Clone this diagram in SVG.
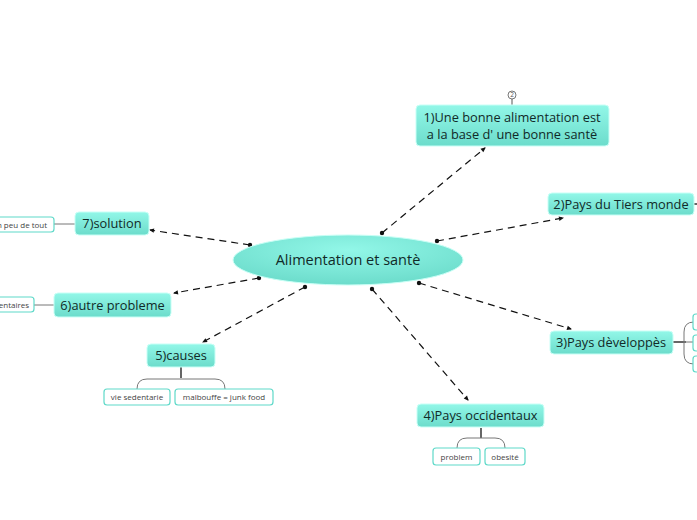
<svg xmlns="http://www.w3.org/2000/svg" width="697" height="520" viewBox="0 0 697 520">
<defs>
<linearGradient id="g" x1="0" y1="0" x2="0" y2="1"><stop offset="0" stop-color="#92f7e8"/><stop offset="1" stop-color="#6cdccb"/></linearGradient>
<radialGradient id="ge" cx="0.5" cy="0.3" r="0.7"><stop offset="0" stop-color="#92f7e8"/><stop offset="1" stop-color="#6cdccb"/></radialGradient>
<marker id="dot" markerWidth="6" markerHeight="6" refX="3" refY="3" markerUnits="userSpaceOnUse"><circle cx="3" cy="3" r="2.2" fill="#111"/></marker>
<marker id="arr" markerWidth="8" markerHeight="8" refX="5" refY="4" orient="auto" markerUnits="userSpaceOnUse"><path d="M1,1.8 L6,4 L1,6.2 Z" fill="#111"/></marker>
</defs>
<style>
.n{fill:url(#g);stroke:#c8fff6;stroke-width:1}
.t{font-family:"Open Sans","Noto Sans",sans-serif;font-size:12.8px;fill:#112a28;text-anchor:middle}
.c{fill:#fff;stroke:#5fd9c9;stroke-width:1.2}
.ct{font-family:"Open Sans","Noto Sans",sans-serif;font-size:8px;fill:#444;text-anchor:middle}
.con line{stroke:#111;stroke-width:1.2;stroke-dasharray:7,5;marker-start:url(#dot);marker-end:url(#arr)}
.br{fill:none;stroke:#777;stroke-width:1}
.st{stroke:#555;stroke-width:1.8}
</style>
<g id="connectors" class="con">
<line x1="382" y1="233" x2="485" y2="148"/>
<line x1="437" y1="241" x2="563" y2="218"/>
<line x1="419" y1="283" x2="571" y2="329"/>
<line x1="372" y1="289" x2="468" y2="400"/>
<line x1="305" y1="287" x2="203" y2="342"/>
<line x1="259" y1="278" x2="174" y2="293"/>
<line x1="250" y1="245" x2="150" y2="230"/>
</g>
<g id="central">
<ellipse cx="348" cy="260" rx="115" ry="25" fill="url(#ge)" stroke="#c8fff6"/>
<text class="t" x="348" y="265" style="font-size:14.5px">Alimentation et santè</text>
</g>
<g id="n1">
<line x1="512" y1="99" x2="512" y2="105" stroke="#555"/>
<circle cx="512" cy="95" r="4" fill="#fff" stroke="#555" stroke-width="0.8"/>
<text x="512" y="97.3" font-family="Open Sans,sans-serif" font-size="6.5" fill="#555" text-anchor="middle">2</text>
<rect class="n" x="416" y="105" width="193" height="41" rx="4"/>
<text class="t" x="512" y="122">1)Une bonne alimentation est</text>
<text class="t" x="512" y="139">a la base d' une bonne santè</text>
</g>
<g id="n2">
<line x1="694" y1="204" x2="697" y2="204" class="st"/>
<rect class="n" x="548" y="193" width="146" height="22" rx="4"/>
<text class="t" x="621" y="208.5">2)Pays du Tiers monde</text>
</g>
<g id="n3">
<line x1="673" y1="342" x2="686" y2="342" class="st"/>
<path class="br" d="M694,322 Q684,322 684,332 L684,354 Q684,364 694,364"/>
<line x1="684" y1="342" x2="694" y2="342" class="br"/>
<rect class="c" x="693" y="314" width="12" height="16" rx="3"/>
<rect class="c" x="693" y="335" width="12" height="16" rx="3"/>
<rect class="c" x="693" y="356" width="12" height="16" rx="3"/>
<rect class="n" x="550" y="331" width="123" height="23" rx="4"/>
<text class="t" x="611" y="347">3)Pays dèveloppès</text>
</g>
<g id="n4">
<line x1="481" y1="428" x2="481" y2="438" class="st"/>
<path class="br" d="M457,448 Q457,438 467,438 L495,438 Q505,438 505,448"/>
<rect class="n" x="417" y="404" width="127" height="23" rx="4"/>
<text class="t" x="480.5" y="420">4)Pays occidentaux</text>
<rect class="c" x="433" y="448" width="47" height="17" rx="3"/>
<text class="ct" x="456.5" y="459.5">problem</text>
<rect class="c" x="485" y="448" width="40" height="17" rx="3"/>
<text class="ct" x="505" y="459.5">obesité</text>
</g>
<g id="n5">
<line x1="181" y1="367" x2="181" y2="378" class="st"/>
<path class="br" d="M137,389 Q137,379 147,379 L215,379 Q225,379 225,389"/>
<rect class="n" x="147" y="344" width="68" height="23" rx="4"/>
<text class="t" x="181" y="360">5)causes</text>
<rect class="c" x="104" y="389" width="66" height="16" rx="3"/>
<text class="ct" x="137" y="400">vie sedentarie</text>
<rect class="c" x="175" y="389" width="98" height="16" rx="3"/>
<text class="ct" x="224" y="400">malbouffe = junk food</text>
</g>
<g id="n6">
<line x1="34" y1="305" x2="54" y2="305" stroke="#777"/>
<rect class="c" x="-10" y="297" width="44" height="15" rx="3"/>
<text class="ct" x="14" y="307.5">entaires</text>
<rect class="n" x="54" y="293" width="117" height="24" rx="4"/>
<text class="t" x="112.5" y="309.5">6)autre probleme</text>
</g>
<g id="n7">
<line x1="54" y1="224" x2="75" y2="224" stroke="#777"/>
<rect class="c" x="-10" y="217" width="64" height="15" rx="3"/>
<text class="ct" x="22" y="227.5">n peu de tout</text>
<rect class="n" x="75" y="212" width="74" height="23" rx="4"/>
<text class="t" x="112" y="228">7)solution</text>
</g>
</svg>
